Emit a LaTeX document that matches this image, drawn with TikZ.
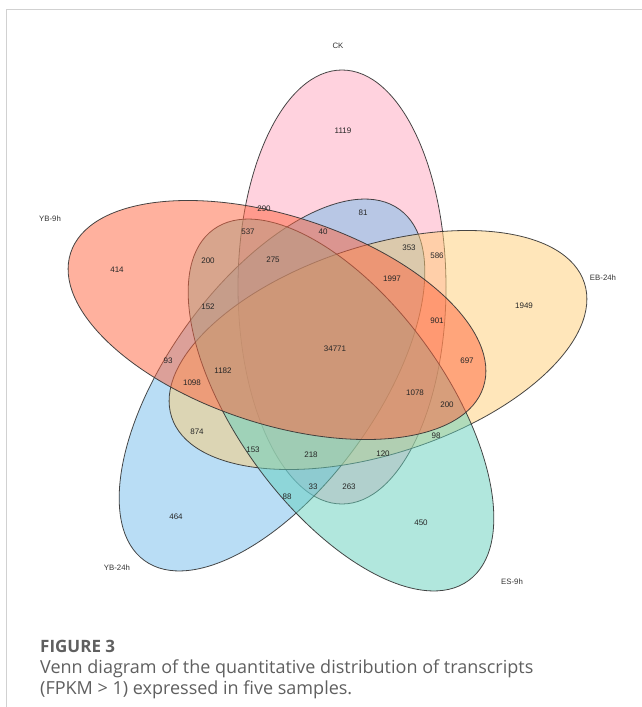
\documentclass[tikz,border=0pt]{standalone}
\usepackage{fontspec}
\setmainfont{Liberation Sans}
\newfontfamily\capfont{Open Sans}
\definecolor{ckcol}{RGB}{255,165,189}
\definecolor{ybninecol}{RGB}{255,100,62}
\definecolor{ebcol}{RGB}{255,205,117}
\definecolor{ybtwentycol}{RGB}{115,188,236}
\definecolor{escol}{RGB}{100,208,188}
\definecolor{captext}{RGB}{95,95,95}
\begin{document}
\begin{tikzpicture}[x=1pt,y=-1pt,
  venn/.style={draw=black!80, line width=0.8pt, fill opacity=0.5, draw opacity=0.9},
  num/.style={font=\fontsize{8}{9}\selectfont, text=black!85, inner sep=0pt},
  setlabel/.style={font=\fontsize{7.8}{9}\selectfont, text=black!80, inner sep=0pt},
  captitle/.style={anchor=base west, inner sep=0pt, text=captext, font=\capfont\bfseries\fontsize{17}{20}\selectfont},
  capline/.style={anchor=base west, inner sep=0pt, text=captext, font=\capfont\fontsize{18}{21}\selectfont}]
\useasboundingbox (0,0) rectangle (642,707);
\draw[black!18, line width=1pt] (6,707) -- (6,9) -- (642,9);

% ellipses (drawing order matters for colour mixing)
\begin{scope}[shift={(342,287)}, rotate=90]
  \filldraw[venn, fill=ckcol] (0,0) ellipse [x radius=217pt, y radius=104pt];
\end{scope}
\begin{scope}[shift={(272,385)}, rotate=234]
  \filldraw[venn, fill=ybtwentycol] (0,0) ellipse [x radius=217pt, y radius=104pt];
\end{scope}
\begin{scope}[shift={(378,350)}, rotate=18]
  \filldraw[venn, fill=ebcol] (0,0) ellipse [x radius=217pt, y radius=104pt];
\end{scope}
\begin{scope}[shift={(341,405)}, rotate=306]
  \filldraw[venn, fill=escol] (0,0) ellipse [x radius=217pt, y radius=104pt];
\end{scope}
\begin{scope}[shift={(277,320)}, rotate=162]
  \filldraw[venn, fill=ybninecol] (0,0) ellipse [x radius=217pt, y radius=104pt];
\end{scope}

% set labels
\node[setlabel] (lCK) at (338,46) {CK};
\node[setlabel] (lYB9) at (50,219) {YB-9h};
\node[setlabel] (lEB) at (603,278) {EB-24h};
\node[setlabel] (lYB24) at (117,568) {YB-24h};
\node[setlabel] (lES) at (512,582) {ES-9h};

% region counts
\node[num] (n1119) at (343,131) {1119};
\node[num] (n290) at (264,209) {290};
\node[num] (n81) at (363,213) {81};
\node[num] (n537) at (248,232) {537};
\node[num] (n40) at (323,232) {40};
\node[num] (n353) at (409,248) {353};
\node[num] (n586) at (437,256) {586};
\node[num] (n200a) at (208,261) {200};
\node[num] (n275) at (273,260) {275};
\node[num] (n1997) at (392,279) {1997};
\node[num] (n414) at (117,270) {414};
\node[num] (n1949) at (524,306) {1949};
\node[num] (n152) at (208,307) {152};
\node[num] (n901) at (437,321) {901};
\node[num] (n34771) at (335,349) {34771};
\node[num] (n697) at (467,361) {697};
\node[num] (n93) at (168,361) {93};
\node[num] (n1182) at (223,371) {1182};
\node[num] (n1098) at (192,383) {1098};
\node[num] (n1078) at (415,393) {1078};
\node[num] (n200b) at (447,405) {200};
\node[num] (n874) at (197,432) {874};
\node[num] (n98) at (436,436) {98};
\node[num] (n153) at (253,450) {153};
\node[num] (n218) at (311,455) {218};
\node[num] (n120) at (383,454) {120};
\node[num] (n33) at (313,487) {33};
\node[num] (n263) at (349,487) {263};
\node[num] (n88) at (287,497) {88};
\node[num] (n464) at (176,517) {464};
\node[num] (n450) at (421,523) {450};

% caption
\node[captitle] (figtitle) at (40,652) {FIGURE 3};
\node[capline] (cap1) at (40,673) {Venn diagram of the quantitative distribution of transcripts};
\node[capline] (cap2) at (40,694) {(FPKM > 1) expressed in five samples.};
\end{tikzpicture}
\end{document}
